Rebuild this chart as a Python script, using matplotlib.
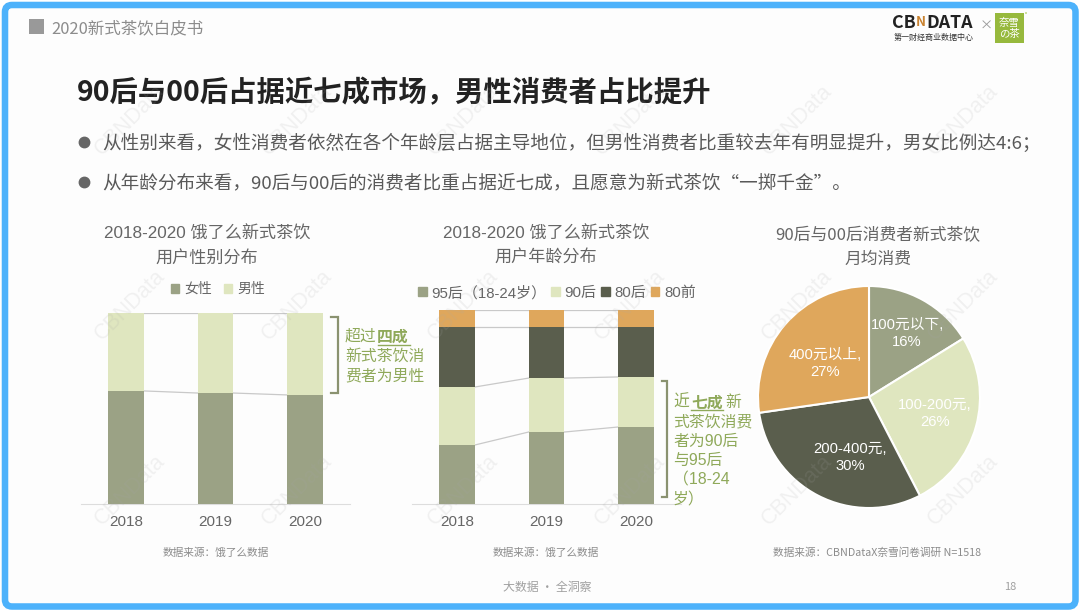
import matplotlib
matplotlib.use('Agg')
import matplotlib.pyplot as plt
from matplotlib.patches import FancyBboxPatch, Rectangle, Patch

plt.rcParams['font.family'] = ['Noto Sans CJK SC', 'DejaVu Sans']
LATIN = ['Liberation Sans', 'Noto Sans CJK SC']

W, H = 1080, 612

# data
years = ['2018', '2019', '2020']
female = [59.2, 58.1, 57.1]
male = [40.8, 41.9, 42.9]

age_labels = ['95后（18-24岁）', '90后', '80后', '80前']
age_95 = [30.4, 37.1, 39.7]
age_90 = [29.9, 27.8, 25.8]
age_80 = [30.9, 26.3, 25.7]
age_pre80 = [8.8, 8.8, 8.8]

spend_labels = ['100元以下,\n16%', '100-200元,\n26%', '200-400元,\n30%', '400元以上,\n27%']
spend_values = [16, 26, 30, 27]

OLIVE = '#9ba285'
PALE = '#dfe6bf'
DARK = '#5a5e4d'
ORANGE = '#dfa75c'
GREY = '#666666'
ACCENT = '#8fa95a'
BRACKET = '#8a9270'


def fx(x):
    return x / W


def fy(y):
    return 1 - y / H


def ptext(x, y, s, **kw):
    kw.setdefault('va', 'center')
    kw.setdefault('ha', 'left')
    kw.setdefault('color', GREY)
    # noto sits a bit high with va=center
    return fig.text(fx(x), fy(y + 1.5), s, **kw)


def px_axes(x0, y0, x1, y1, **kw):
    # axes from pixel box, y counted from the top like the picture
    return fig.add_axes([fx(x0), fy(y1), (x1 - x0) / W, (y1 - y0) / H], **kw)


def stacked(ax, series, colors):
    xs = range(len(years))
    bottom = [0, 0, 0]
    for vals, c in zip(series, colors):
        ax.bar(xs, vals, width=0.4, bottom=bottom, color=c, zorder=3)
        bottom = [b + v for b, v in zip(bottom, vals)]
        # thin connectors between the bars
        for i in range(2):
            ax.plot([i + 0.2, i + 0.8], [bottom[i], bottom[i + 1]], color='#c9c9c9', lw=0.9, zorder=2)
    ax.set_xlim(-0.5, 2.5)
    ax.set_xticks(list(xs))
    ax.set_xticklabels(years, fontsize=11, color=GREY, family=LATIN)
    ax.tick_params(axis='x', length=0, pad=8)
    ax.set_yticks([])
    for s in ['top', 'left', 'right']:
        ax.spines[s].set_visible(False)
    ax.spines['bottom'].set_color('#dddddd')
    ax.patch.set_alpha(0)


fig = plt.figure(figsize=(W / 100, H / 100), dpi=100, facecolor='white')

# slide frame
bg = fig.add_axes([0, 0, 1, 1], zorder=-1)
bg.set_xlim(0, W)
bg.set_ylim(H, 0)
bg.axis('off')
bg.add_patch(FancyBboxPatch((5, 5), 1070.5, 601.5, boxstyle='round,pad=0,rounding_size=7',
                            fc='#fdfdfd', ec='#4db2fb', lw=4.7))

# watermark goes on top, faint over the bars too
wm = fig.add_axes([0, 0, 1, 1], zorder=10)
wm.set_xlim(0, W)
wm.set_ylim(H, 0)
wm.axis('off')
for wy in [120, 305, 490]:
    for wx in [130, 297, 463, 630, 797, 963]:
        wm.text(wx, wy, 'CBNData', fontsize=15.5, color='#a8a8a8', alpha=0.15, rotation=45,
                ha='center', va='center', family=LATIN)

# header
bg.add_patch(Rectangle((29, 19), 15, 15, fc='#999999', ec='none'))
ptext(51, 27, '2020新式茶饮白皮书', fontsize=11.9, color='#8c8c8c')
ptext(892, 21, 'CB', fontsize=12.8, fontweight='bold', color='#222222')
ptext(916, 21, 'N', fontsize=9.5, fontweight='bold', color='#c9822f')
ptext(926, 21, 'DATA', fontsize=12.8, fontweight='bold', color='#222222')
ptext(894, 36, '第一财经商业数据中心', fontsize=5.8, color='#333333')
ptext(980, 25, '×', fontsize=9.5, color='#999999')
bg.add_patch(Rectangle((995, 13), 29, 30, fc='#97b93d', ec='none'))
bg.add_patch(Rectangle((1025, 12), 2, 2, fc='#cfe0a0', ec='none'))
ptext(1009.5, 27, '奈雪\nの茶', fontsize=7.5, color='white', ha='center', linespacing=1.05)

# headline and bullets
ptext(77, 92, '90后与00后占据近七成市场，男性消费者占比提升', fontsize=20.4, fontweight='bold', color='#222222')
bullets = ['从性别来看，女性消费者依然在各个年龄层占据主导地位，但男性消费者比重较去年有明显提升，男女比例达4:6；',
           '从年龄分布来看，90后与00后的消费者比重占据近七成，且愿意为新式茶饮“一掷千金”。']
for by, b in zip([142, 182], bullets):
    bg.plot([84], [by], 'o', ms=7.5, color='#666666')
    ptext(102, by - 0.5, b, fontsize=13.4, color='#595959')

# gender chart
ptext(207, 232, '2018-2020 饿了么新式茶饮', fontsize=12.3, ha='center', family=LATIN)
ptext(207, 256, '用户性别分布', fontsize=12.3, ha='center')
ax1 = px_axes(81, 313, 350, 504)
stacked(ax1, [female, male], [OLIVE, PALE])
ax1.set_ylim(0, 100)
fig.legend(handles=[Patch(color=OLIVE, label='女性'), Patch(color=PALE, label='男性')],
           loc='center', bbox_to_anchor=(fx(218), fy(289)), ncol=2, frameon=False,
           fontsize=10, labelcolor=GREY, handlelength=0.6, handleheight=0.6,
           handletextpad=0.4, columnspacing=0.8)
ptext(216, 551, '数据来源：饿了么数据', fontsize=7.7, ha='center', color='#8c8c8c')

# age chart
ptext(546, 232, '2018-2020 饿了么新式茶饮', fontsize=12.3, ha='center', family=LATIN)
ptext(546, 256, '用户年龄分布', fontsize=12.3, ha='center')
ax2 = px_axes(412, 310, 681, 504)
stacked(ax2, [age_95, age_90, age_80, age_pre80], [OLIVE, PALE, DARK, ORANGE])
ax2.set_ylim(0, 100)
fig.legend(handles=[Patch(color=c, label=l) for c, l in zip([OLIVE, PALE, DARK, ORANGE], age_labels)],
           loc='center', bbox_to_anchor=(fx(557), fy(293)), ncol=4, frameon=False,
           labelcolor=GREY, handlelength=0.55, handleheight=0.55,
           handletextpad=0.3, columnspacing=0.35, prop={'family': LATIN, 'size': 10.8})
ptext(546, 551, '数据来源：饿了么数据', fontsize=7.7, ha='center', color='#8c8c8c')

# brackets and side notes
bg.plot([331, 338, 338, 331], [317, 317, 393, 393], color=BRACKET, lw=1.6, solid_joinstyle='miter')
ptext(345, 335, '超过', fontsize=11.4, color=ACCENT)
ptext(377, 335, '四成', fontsize=11.4, color=ACCENT, fontweight='bold', style='italic')
bg.plot([378, 410], [345, 345], color=ACCENT, lw=1)
ptext(345, 355, '新式茶饮消', fontsize=11.4, color=ACCENT)
ptext(345, 374, '费者为男性', fontsize=11.4, color=ACCENT)

bg.plot([662, 667, 667, 662], [381, 381, 497, 497], color=BRACKET, lw=1.6, solid_joinstyle='miter')
ptext(673, 401, '近', fontsize=11.4, color=ACCENT)
ptext(691, 401, '七成', fontsize=11.4, color=ACCENT, fontweight='bold', style='italic')
bg.plot([691, 723], [410, 410], color=ACCENT, lw=1)
ptext(725, 401, '新', fontsize=11.4, color=ACCENT)
for ly, s in zip([420, 440, 459, 478, 498], ['式茶饮消费', '者为90后', '与95后', '（18-24', '岁）']):
    ptext(673, ly, s, fontsize=11.4, color=ACCENT, family=LATIN)

# spending pie
ptext(878, 234, '90后与00后消费者新式茶饮', fontsize=12.1, ha='center')
ptext(878, 258, '月均消费', fontsize=12.1, ha='center')
ax3 = px_axes(758, 286, 980, 508)
ax3.pie(spend_values, colors=[OLIVE, PALE, DARK, ORANGE], startangle=90, counterclock=False,
        radius=1.0, wedgeprops={'edgecolor': 'white', 'linewidth': 1.5})
ax3.set_xlim(-1, 1)
ax3.set_ylim(-1, 1)
for (lx, ly), s in zip([(907, 332), (935, 412), (850, 456), (825, 362)], spend_labels):
    ptext(lx, ly, s, fontsize=10.6, color='white', ha='center', linespacing=1.35, family=LATIN)
ptext(877, 551, '数据来源：CBNDataX奈雪问卷调研 N=1518', fontsize=7.7, ha='center', color='#8c8c8c')

# footer
ptext(547, 586, '大数据 · 全洞察', fontsize=8.6, ha='center', color='#a0a0a0')
ptext(1010, 585, '18', fontsize=8, ha='center', color='#a0a0a0')

fig.savefig('out.png', dpi=100, facecolor='white')
